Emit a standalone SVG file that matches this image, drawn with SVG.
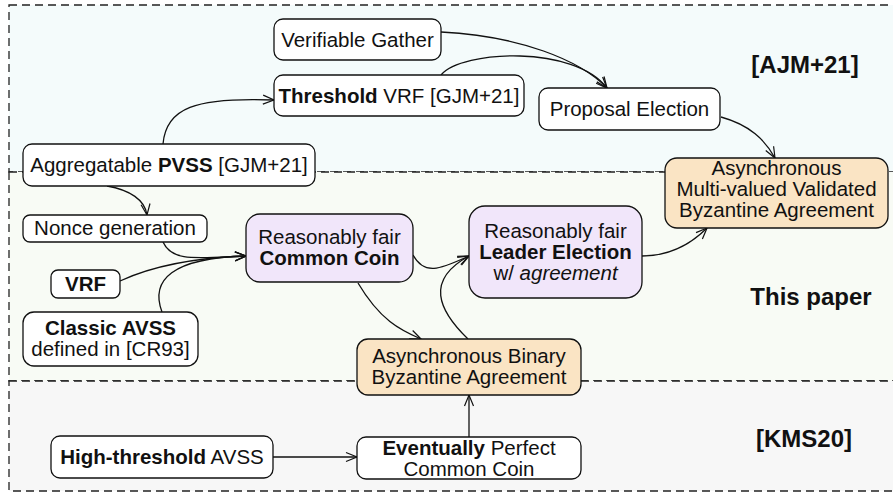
<svg xmlns="http://www.w3.org/2000/svg" width="893" height="495" viewBox="0 0 893 495">
<defs>
<marker id="arr" markerUnits="userSpaceOnUse" markerWidth="14" markerHeight="12" refX="12" refY="6" orient="auto">
<path d="M1,1.5 L12,6 L1,10.5" fill="none" stroke="#111" stroke-width="1.2"/>
</marker>
<style>
.region{stroke:#222;stroke-width:1.3;stroke-dasharray:8 5;}
.node{fill:#fff;stroke:#111;stroke-width:1.3;}
.peach{fill:#fae4c4;stroke:#111;stroke-width:1.3;}
.purple{fill:#f1e6fa;stroke:#111;stroke-width:1.3;}
.t{font-family:"Liberation Sans",Arial,sans-serif;font-size:20.5px;fill:#111;text-anchor:middle;}
.b{font-weight:bold;}
.lab{font-family:"Liberation Sans",Arial,sans-serif;font-size:24px;font-weight:bold;fill:#111;text-anchor:middle;}
.edge{fill:none;stroke:#111;stroke-width:1.3;marker-end:url(#arr);}
</style>
</defs>
<g id="regions">
<rect class="region" x="9" y="5" width="900" height="167" fill="#f4fbfb"/>
<rect class="region" x="9" y="172" width="900" height="209" fill="#f8fbf5"/>
<rect class="region" x="9" y="381" width="900" height="110" fill="#f7f7f7"/>
<text class="lab" x="805" y="73">[AJM+21]</text>
<text class="lab" x="811" y="305">This paper</text>
<text class="lab" x="804" y="447">[KMS20]</text>
</g>
<g id="connectors">
<path class="edge" d="M441,32 C520,36 580,60 607,88"/>
<path class="edge" d="M441,75 C462,50 575,45 607,88"/>
<path class="edge" d="M163,144 C166,108 195,97 274,100"/>
<path class="edge" d="M107,186 C130,190 145,200 147,215"/>
<path class="edge" d="M163,242 C172,262 195,258 246,256"/>
<path class="edge" d="M120,281 C150,267 190,258 246,256"/>
<path class="edge" d="M162,312 C150,280 172,258 246,256"/>
<path class="edge" d="M358,283 C380,320 400,330 421,339"/>
<path class="edge" d="M413,255 C425,277 442,268 469,256"/>
<path class="edge" d="M468,339 C438,310 425,280 469,256"/>
<path class="edge" d="M642,256 C670,256 690,245 707,228"/>
<path class="edge" d="M721,117 C750,125 765,140 775,158"/>
<path class="edge" d="M469,437 L469,395"/>
<path class="edge" d="M273,457 L357,457"/>
</g>
<g id="verifiable-gather">
<rect class="node" x="274" y="19" width="167" height="41" rx="9"/>
<text class="t" x="357.5" y="47">Verifiable Gather</text>
</g>
<g id="threshold-vrf">
<rect class="node" x="274" y="75" width="250" height="41" rx="9"/>
<text class="t" x="399" y="103"><tspan class="b">Threshold</tspan> VRF [GJM+21]</text>
</g>
<g id="pvss">
<rect class="node" x="23" y="144" width="292" height="42" rx="9"/>
<text class="t" x="169" y="172">Aggregatable <tspan class="b">PVSS</tspan> [GJM+21]</text>
</g>
<g id="proposal-election">
<rect class="node" x="539" y="88" width="181" height="42" rx="9"/>
<text class="t" x="629.5" y="116">Proposal Election</text>
</g>
<g id="mvba">
<rect class="peach" x="665" y="158" width="223" height="70" rx="12"/>
<text class="t" x="776.5" y="175">Asynchronous</text>
<text class="t" x="776.5" y="196">Multi-valued Validated</text>
<text class="t" x="776.5" y="217">Byzantine Agreement</text>
</g>
<g id="nonce">
<rect class="node" x="23" y="215" width="184" height="27" rx="7"/>
<text class="t" x="115" y="235">Nonce generation</text>
</g>
<g id="vrf">
<rect class="node" x="51" y="270" width="69" height="28" rx="7"/>
<text class="t b" x="85.5" y="291">VRF</text>
</g>
<g id="classic-avss">
<rect class="node" x="23" y="312" width="175" height="54" rx="11"/>
<text class="t b" x="110.5" y="335">Classic AVSS</text>
<text class="t" x="110.5" y="356">defined in [CR93]</text>
</g>
<g id="common-coin">
<rect class="purple" x="246" y="214" width="167" height="68" rx="14"/>
<text class="t" x="329.5" y="244">Reasonably fair</text>
<text class="t b" x="329.5" y="265">Common Coin</text>
</g>
<g id="leader-election">
<rect class="purple" x="469" y="206" width="173" height="92" rx="16"/>
<text class="t" x="555.5" y="238">Reasonably fair</text>
<text class="t b" x="555.5" y="259">Leader Election</text>
<text class="t" x="555.5" y="280">w/ <tspan font-style="italic">agreement</tspan></text>
</g>
<g id="bba">
<rect class="peach" x="357" y="339" width="224" height="56" rx="11"/>
<text class="t" x="469" y="363">Asynchronous Binary</text>
<text class="t" x="469" y="384">Byzantine Agreement</text>
</g>
<g id="epcc">
<rect class="node" x="357" y="437" width="224" height="42" rx="9"/>
<text class="t" x="469" y="455"><tspan class="b">Eventually</tspan> Perfect</text>
<text class="t" x="469" y="476">Common Coin</text>
</g>
<g id="high-threshold-avss">
<rect class="node" x="51" y="436" width="222" height="42" rx="9"/>
<text class="t" x="162" y="464"><tspan class="b">High-threshold</tspan> AVSS</text>
</g>
</svg>
